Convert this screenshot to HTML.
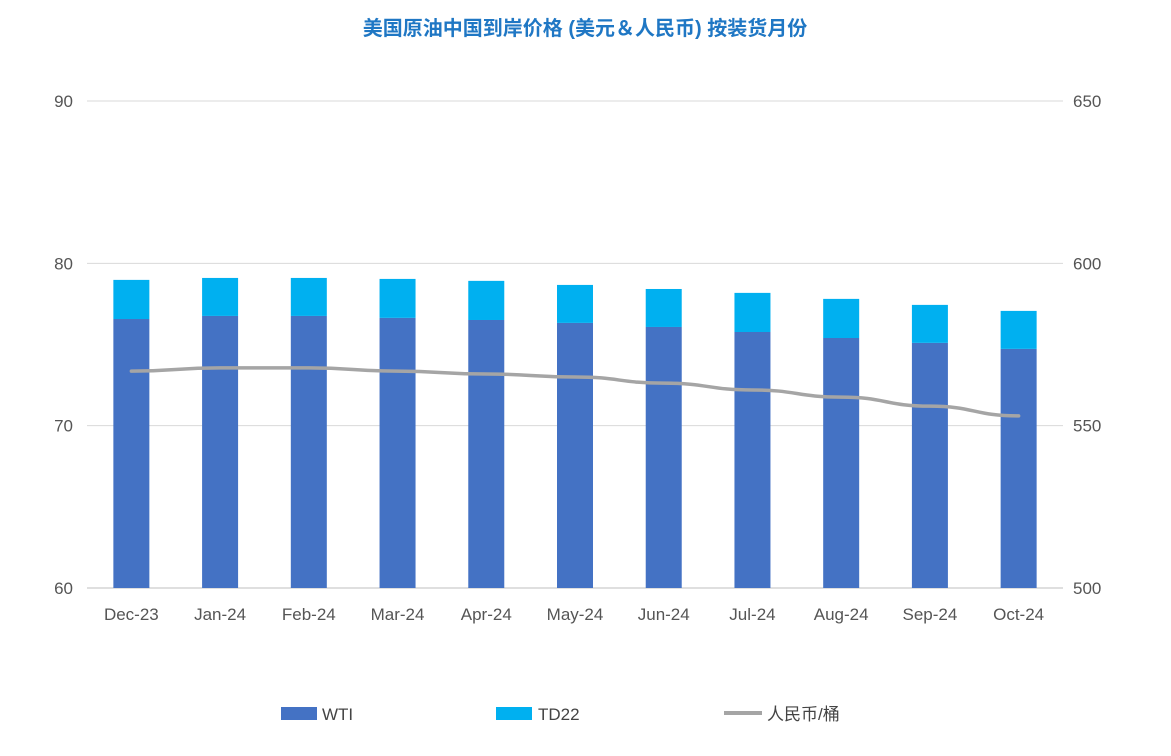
<!DOCTYPE html>
<html><head><meta charset="utf-8"><style>
body{margin:0;background:#fff;font-family:"Liberation Sans","Noto Sans CJK SC",sans-serif}
</style></head><body>
<svg width="1171" height="751" xmlns="http://www.w3.org/2000/svg" id="chart">
<text x="585" y="35" text-anchor="middle" font-size="20" font-weight="bold" fill="#1f77c4" font-family="Liberation Sans, Noto Sans CJK SC, sans-serif">美国原油中国到岸价格 (美元＆人民币) 按装货月份</text>
<g id="grid"></g><g id="bars"></g><g id="line"></g><g id="axes"></g>
<g font-size="17" fill="#444">
<rect x="281" y="707" width="36" height="13" fill="#4472c4"/>
<text x="322" y="720">WTI</text>
<rect x="496" y="707" width="36" height="13" fill="#00b0f0"/>
<text x="538" y="720">TD22</text>
<line x1="724" y1="713" x2="762" y2="713" stroke="#a5a5a5" stroke-width="4"/>
<text x="767" y="720" font-family="Liberation Sans, Noto Sans CJK SC, sans-serif">人民币/桶</text>
</g>
</svg>
<script>
const categories=["Dec-23","Jan-24","Feb-24","Mar-24","Apr-24","May-24","Jun-24","Jul-24","Aug-24","Sep-24","Oct-24"];
const wti=[76.57,76.76,76.76,76.64,76.51,76.33,76.08,75.77,75.40,75.10,74.73];
const td22=[2.41,2.34,2.34,2.40,2.41,2.34,2.34,2.41,2.41,2.34,2.34];
const rmb=[566.8,567.8,567.8,566.8,565.9,565.0,563.1,561.0,558.8,556.0,553.0];
const leftTicks=[60,70,80,90];
const rightTicks=[500,550,600,650];
const NS="http://www.w3.org/2000/svg";
const x0=87,x1=1063,yB=588,yT=101;
const band=(x1-x0)/categories.length;
const xc=i=>x0+band*(i+0.5);
const yL=v=>yB-(v-60)/30*(yB-yT);
const yR=v=>yB-(v-500)/150*(yB-yT);
function mk(t,a,p){const e=document.createElementNS(NS,t);for(const k in a)e.setAttribute(k,a[k]);p.appendChild(e);return e;}
const g=document.getElementById('grid'),b=document.getElementById('bars'),l=document.getElementById('line'),ax=document.getElementById('axes');
leftTicks.forEach((v,i)=>{
 const ln=mk('line',{x1:x0,x2:x1,y1:yL(v),y2:yL(v),stroke:v===60?'#bfbfbf':'#d9d9d9','stroke-width':1},g);
 
 
 const t=mk('text',{x:73,y:yL(v)+6,'text-anchor':'end','font-size':17,fill:'#555'},ax);t.textContent=v;
 
 
});
rightTicks.forEach(v=>{
 const t=mk('text',{x:1073,y:yR(v)+6,'font-size':17,fill:'#555'},ax);t.textContent=v;
 
 
});
const bw=36;let pts=[];
categories.forEach((c,i)=>{
 const r1=mk('rect',{x:xc(i)-bw/2,y:yL(wti[i]),width:bw,height:yB-yL(wti[i]),fill:'#4472c4'},b);
 
 
 const r2=mk('rect',{x:xc(i)-bw/2,y:yL(wti[i]+td22[i]),width:bw,height:yL(wti[i])-yL(wti[i]+td22[i]),fill:'#00b0f0'},b);
 
 
 const t=mk('text',{x:xc(i),y:620,'text-anchor':'middle','font-size':17,fill:'#555'},ax);t.textContent=c;
 
 
 pts.push([xc(i),yR(rmb[i])]);
});
let d='M'+pts[0].join(',');
for(let i=1;i<pts.length;i++){const p0=pts[i-1],p1=pts[i],mx=(p0[0]+p1[0])/2;d+=` C${mx},${p0[1]} ${mx},${p1[1]} ${p1[0]},${p1[1]}`;}
const pl=mk('path',{d:d,fill:'none',stroke:'#a5a5a5','stroke-width':3.5,'stroke-linecap':'round'},l);


</script>
</body></html>
